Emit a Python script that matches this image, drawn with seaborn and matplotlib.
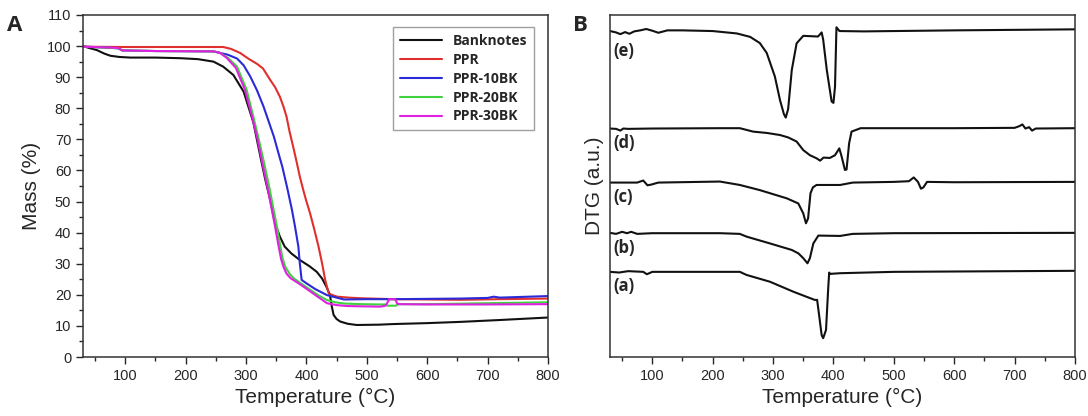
import matplotlib
matplotlib.use("Agg")
import matplotlib.pyplot as plt
import pandas as pd
import seaborn as sns
from matplotlib.ticker import MultipleLocator

# --- TGA (panel A): temperature (°C) and mass (%) ---
banknotes_t = [30, 40, 53, 65, 75, 90, 108, 150, 191, 220, 246, 262, 279, 296, 312, 326, 332, 340, 348, 356, 364,
               375, 389, 405, 417, 426, 433, 439, 442, 445, 450, 456, 468, 483, 520, 544, 600, 655, 720, 800]
banknotes_m = [100, 99.4, 98.7, 97.6, 96.9, 96.5, 96.3, 96.3, 96.1, 95.8, 95.0, 93.4, 90.7, 85.3, 75.5, 62.3, 56.9,
               50.5, 43.0, 38.7, 35.5, 33.3, 31.2, 29.2, 27.4, 25.2, 22.6, 19.9, 16.2, 13.5, 12.2, 11.4, 10.7, 10.3,
               10.4, 10.6, 10.9, 11.3, 11.9, 12.7]

ppr_t = [30, 100, 200, 262, 275, 290, 305, 318, 328, 340, 348, 356, 362, 367, 372, 378, 384, 389, 395, 400, 406, 413,
         420, 426, 431, 435, 437, 442, 451, 470, 490, 544, 600, 655, 720, 800]
ppr_m = [99.8, 99.7, 99.7, 99.7, 99.1, 97.8, 95.8, 94.3, 92.8, 89.1, 86.8, 83.7, 80.5, 77.3, 72.5, 67.6, 62.5, 58.0,
         53.5, 50.0, 46.2, 41.0, 35.5, 30.0, 24.8, 21.8, 20.5, 20.0, 19.4, 19.1, 18.9, 18.6, 18.5, 18.4, 18.6, 18.8]

bk10_t = [30, 60, 88, 95, 150, 246, 257, 270, 285, 296, 307, 318, 329, 337, 346, 353, 360, 368, 376, 381, 386.6, 389,
          392, 400, 415, 434, 462, 500, 544, 600, 655, 700, 710, 720, 800]
bk10_m = [99.8, 99.6, 99.3, 98.6, 98.4, 98.3, 97.8, 97.2, 96.0, 93.8, 90.2, 85.8, 80.5, 76.0, 70.9, 66.0, 61.2, 54.5,
          47.3, 42.0, 35.5, 30.1, 24.8, 23.7, 21.8, 19.9, 18.5, 18.6, 18.6, 18.7, 18.8, 19.0, 19.4, 19.1, 19.6]

bk20_t = [30, 88, 95, 150, 246, 257, 270, 285, 301, 312, 321, 330, 338, 345, 351, 356, 360, 365, 372, 379, 392, 407,
          420, 434, 448, 462, 490, 522, 531, 535, 548, 552, 600, 700, 800]
bk20_m = [99.8, 99.3, 98.6, 98.4, 98.3, 97.8, 96.2, 93.4, 85.9, 77.3, 70.0, 62.3, 55.0, 48.0, 42.0, 36.5, 32.0, 29.0,
          26.8, 25.3, 23.5, 21.5, 19.8, 18.3, 17.6, 17.2, 17.0, 16.9, 16.9, 16.5, 16.5, 17.0, 17.0, 17.3, 17.6]

bk30_t = [30, 88, 95, 150, 246, 257, 268, 283, 298, 310, 319, 327, 335, 342, 348, 354, 358, 362, 367, 374, 390, 407,
          420, 434, 450, 467, 490, 522, 531, 534, 537, 547, 550, 553, 600, 700, 800]
bk30_m = [99.8, 99.4, 98.6, 98.4, 98.3, 97.8, 96.2, 93.0, 86.0, 77.3, 70.0, 62.3, 55.0, 48.0, 42.0, 35.5, 31.5, 29.0,
          26.8, 25.3, 23.3, 21.0, 19.2, 17.3, 16.7, 16.4, 16.3, 16.2, 16.5, 17.5, 18.6, 18.6, 17.3, 17.0, 16.9, 16.9, 17.0]

tga_labels = ["Banknotes", "PPR", "PPR-10BK", "PPR-20BK", "PPR-30BK"]
tga_colors = ["#111111", "#e0302e", "#2a2ad8", "#3ed23e", "#e020e0"]

# --- DTG (panel B): offset curves, arbitrary units ---
dtg_e_t = [30, 40, 47, 55, 62, 70, 80, 90, 100, 110, 125, 150, 200, 240, 262, 278, 289.5, 303, 311.5, 318, 321, 325,
           331, 339, 350, 374.5, 380.5, 383, 389, 397, 400, 402.6, 405, 410, 450, 600, 800]
dtg_e_v = [95.3, 94.9, 94.4, 95.0, 94.5, 95.2, 95.5, 95.9, 95.4, 94.8, 95.5, 95.5, 95.3, 94.6, 93.6, 91.8, 88.9, 82.0,
           75.1, 71.0, 70.0, 72.5, 83.9, 91.7, 93.9, 93.7, 94.9, 92.8, 83.9, 74.7, 74.3, 79.0, 96.4, 95.3, 95.2, 95.5,
           95.8]

dtg_d_t = [30, 40, 47, 52, 60, 100, 212, 245, 267, 290, 311.5, 325, 339, 350, 361, 372, 378, 383.5, 394, 402.6, 409.7,
           413.6, 419, 421.7, 426, 430, 445, 600, 700, 708, 713, 718, 724, 729, 735, 800]
dtg_d_v = [66.8, 66.7, 66.2, 66.8, 66.7, 66.8, 66.9, 66.9, 65.9, 65.5, 64.9, 64.2, 63.0, 60.5, 59.0, 58.1, 57.4, 58.3,
           58.2, 59.0, 61.0, 58.6, 54.7, 54.8, 62.5, 65.9, 66.9, 66.9, 67.0, 67.5, 68.0, 66.8, 67.2, 66.2, 66.8, 66.9]

dtg_c_t = [30, 75, 85, 92, 98, 110, 212, 245, 278, 322.6, 341.8, 350, 354.5, 358, 362, 366, 372, 411, 432, 500, 525,
           533, 540, 545, 549, 555, 600, 800]
dtg_c_v = [51.0, 51.0, 51.6, 50.2, 50.4, 51.0, 51.3, 50.3, 48.8, 46.4, 44.9, 42.0, 39.1, 40.5, 47.9, 49.6, 50.3, 50.3,
           51.0, 51.2, 51.4, 52.5, 51.2, 49.2, 49.6, 51.2, 51.1, 51.2]

dtg_b_t = [30, 40, 50, 58, 65, 75, 100, 212, 245, 256, 295, 331, 342, 350, 357, 361, 366.7, 375, 411, 432, 500, 800]
dtg_b_v = [36.3, 36.0, 36.6, 36.2, 36.6, 36.0, 36.2, 36.2, 36.0, 35.2, 33.2, 31.3, 30.3, 28.9, 27.4, 28.9, 33.2, 35.5,
           35.4, 36.0, 36.2, 36.3]

dtg_a_t = [30, 45, 60, 85, 91, 100, 212, 245, 256, 295, 333.5, 355.6, 369, 373, 376.6, 380.5, 383, 387.7, 391.5, 393,
           394, 411, 500, 800]
dtg_a_v = [24.9, 24.7, 25.1, 24.9, 24.2, 24.9, 24.9, 24.9, 24.0, 22.0, 19.1, 17.6, 16.7, 16.7, 11.8, 6.4, 5.5, 7.9,
           20.6, 24.7, 24.3, 24.5, 24.9, 25.2]

dtg_labels = ["(e)", "(d)", "(c)", "(b)", "(a)"]
dtg_label_y = [89.5, 62.7, 46.7, 31.9, 20.8]


def build_frame(series):
    frames = []
    for name, t, v in series:
        frames.append(pd.DataFrame({"temp": t, "value": v, "series": name}))
    return pd.concat(frames, ignore_index=True)


def style_axis(ax):
    ax.set_xlim(30, 800)
    ax.xaxis.set_major_locator(MultipleLocator(100))
    ax.xaxis.set_minor_locator(MultipleLocator(50))
    ax.tick_params(which="major", direction="out", length=5, width=1, labelsize=10.5)
    ax.tick_params(which="minor", direction="out", length=3, width=1)
    for sp in ax.spines.values():
        sp.set_visible(True)
        sp.set_linewidth(1.1)
        sp.set_color("#333333")
    ax.set_xlabel("Temperature (°C)", fontsize=15)


def main() -> None:
    sns.set_theme(style="ticks")
    plt.rcParams["font.family"] = ["Liberation Sans", "DejaVu Sans"]

    fig = plt.figure(figsize=(10.88, 4.16), dpi=100)
    ax_a = fig.add_axes([0.0763, 0.1418, 0.4274, 0.8222])
    ax_b = fig.add_axes([0.5607, 0.1418, 0.4273, 0.8222])

    tga = build_frame([
        ("Banknotes", banknotes_t, banknotes_m),
        ("PPR", ppr_t, ppr_m),
        ("PPR-10BK", bk10_t, bk10_m),
        ("PPR-20BK", bk20_t, bk20_m),
        ("PPR-30BK", bk30_t, bk30_m),
    ])
    sns.lineplot(data=tga, x="temp", y="value", hue="series", hue_order=tga_labels,
                 palette=dict(zip(tga_labels, tga_colors)), estimator=None, sort=False,
                 linewidth=1.5, ax=ax_a)
    style_axis(ax_a)
    ax_a.set_ylim(0, 110)
    ax_a.yaxis.set_major_locator(MultipleLocator(10))
    ax_a.yaxis.set_minor_locator(MultipleLocator(5))
    ax_a.set_ylabel("Mass (%)", fontsize=15)
    leg = ax_a.legend(loc="upper right", bbox_to_anchor=(0.985, 0.985), frameon=True, fancybox=False,
                      edgecolor="#888888", handlelength=3.0, borderpad=0.5, labelspacing=0.35,
                      prop={"family": "Open Sans", "weight": "bold", "size": 10})
    leg.get_frame().set_linewidth(1.0)

    dtg = build_frame([
        ("(e)", dtg_e_t, dtg_e_v),
        ("(d)", dtg_d_t, dtg_d_v),
        ("(c)", dtg_c_t, dtg_c_v),
        ("(b)", dtg_b_t, dtg_b_v),
        ("(a)", dtg_a_t, dtg_a_v),
    ])
    sns.lineplot(data=dtg, x="temp", y="value", units="series", color="#111111",
                 estimator=None, sort=False, linewidth=1.5, ax=ax_b)
    style_axis(ax_b)
    ax_b.set_ylim(0, 100)
    ax_b.set_yticks([])
    ax_b.set_ylabel("DTG (a.u.)", fontsize=15)
    for lab, y in zip(dtg_labels, dtg_label_y):
        ax_b.text(35, y, lab, fontsize=12, fontweight="bold", family="Open Sans", va="center", ha="left")

    fig.text(0.006, 0.925, "A", fontsize=16, fontweight="bold", family="Open Sans")
    fig.text(0.527, 0.925, "B", fontsize=16, fontweight="bold", family="Open Sans")

    fig.savefig("out.png", dpi=100)
    plt.close(fig)


if __name__ == "__main__":
    main()
